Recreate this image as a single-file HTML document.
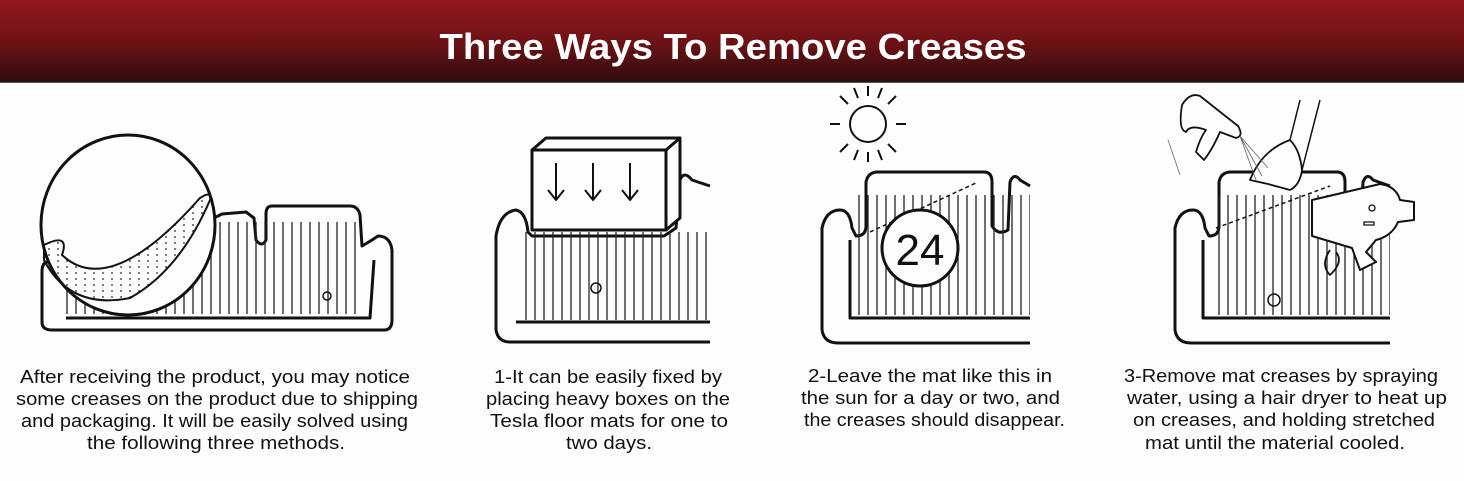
<!DOCTYPE html>
<html><head><meta charset="utf-8"><style>
html,body{margin:0;padding:0;background:#fdfdfb;}
svg{display:block;}
</style></head><body>
<svg width="1464" height="481" viewBox="0 0 1464 481" xmlns="http://www.w3.org/2000/svg">
<defs>
<linearGradient id="hd" x1="0" y1="0" x2="0" y2="1">
<stop offset="0" stop-color="#951820"/><stop offset="0.5" stop-color="#6e1216"/><stop offset="1" stop-color="#2e0d0d"/>
</linearGradient>
<pattern id="rib" width="9" height="10" patternUnits="userSpaceOnUse"><line x1="4" y1="0" x2="4" y2="10" stroke="#222" stroke-width="1.3"/></pattern>
<pattern id="dots" width="9" height="6" patternUnits="userSpaceOnUse"><circle cx="4" cy="3" r="0.9" fill="#222"/></pattern>
</defs>
<rect width="1464" height="481" fill="#fdfdfb"/>
<rect width="1464" height="82" fill="url(#hd)"/>
<line x1="0" y1="82" x2="1464" y2="82" stroke="#1a1a1a" stroke-width="1.5"/>
<text x="733" y="59" text-anchor="middle" font-family="Liberation Sans, sans-serif" font-weight="bold" font-size="36" fill="#fff" textLength="587" lengthAdjust="spacingAndGlyphs">Three Ways To Remove Creases</text>

<g fill="none" stroke="#111" stroke-width="3" stroke-linejoin="round">
<!-- Mat 1 -->
<path d="M48 262 Q42 262 42 272 L42 322 Q42 330 52 330 L384 330 Q392 330 392 320 L392 250 Q390 236 378 236 L372 240 L362 246 L360 215 Q358 206 350 206 L272 206 Q266 206 266 214 L266 240 Q262 248 256 240 L254 218 L246 212 L222 214 L210 220"/>
<path d="M66 318 L370 318 L374 260"/>
<rect x="66" y="222" width="296" height="92" fill="url(#rib)" stroke="none"/>
<circle cx="327" cy="296" r="4" stroke-width="1.5"/>
<ellipse cx="128" cy="225" rx="87" ry="90" fill="#fdfdfb"/>
<path d="M44 245 Q70 232 62 255 Q110 300 200 198 Q212 190 210 200 Q180 270 130 298 Q70 310 44 260 Z" fill="url(#dots)" stroke-width="2"/>
<path d="M62 255 Q110 300 200 198" stroke-width="1.5"/>

<!-- Mat 2 -->
<path d="M496 330 L496 236 Q500 212 516 210 Q526 212 528 232 L532 236 L664 236 L676 228 L680 180 Q684 170 692 180 L710 186"/>
<path d="M516 322 L710 322 M496 330 Q498 342 510 342 L710 342" />
<rect x="520" y="232" width="190" height="88" fill="url(#rib)" stroke="none"/>
<circle cx="596" cy="288" r="5" stroke-width="1.5"/>
<path d="M532 150 L546 138 L680 138 L666 150 Z M666 150 L680 138 L680 218 L666 230" fill="#fdfdfb"/>
<rect x="532" y="150" width="134" height="80" fill="#fdfdfb"/>
<path d="M556 163 L556 200 M548 190 L556 200 L564 190 M593 163 L593 200 M585 190 L593 200 L601 190 M630 163 L630 200 M622 190 L630 200 L638 190" stroke-width="2"/>

<!-- Mat 3 -->
<path d="M822 330 L822 228 Q826 210 840 210 Q850 210 852 228 L856 236 Q866 236 866 226 L866 182 Q868 172 878 172 L984 172 Q992 172 992 182 L992 226 Q998 236 1008 230 L1010 182 Q1014 172 1020 180 L1030 186"/>
<path d="M850 240 L850 318 L1030 318 M822 330 Q824 343 838 343 L1030 343"/>
<rect x="858" y="195" width="172" height="120" fill="url(#rib)" stroke="none"/>
<path d="M870 232 L978 182" stroke-dasharray="4 3" stroke-width="1.5"/>
<circle cx="920" cy="248" r="38" fill="#fdfdfb"/>
<text x="920" y="265" text-anchor="middle" font-family="Liberation Sans, sans-serif" font-size="44" fill="#111" stroke="none">24</text>
<circle cx="868" cy="124" r="18" stroke-width="2"/>
<path d="M868 96 L868 86 M868 152 L868 162 M840 124 L830 124 M896 124 L906 124 M848 104 L840 96 M888 104 L896 96 M848 144 L840 152 M888 144 L896 152 M858 98 L854 88 M878 98 L882 88 M858 150 L854 160 M878 150 L882 160" stroke-width="2"/>

<!-- Mat 4 -->
<path d="M1175 330 L1175 228 Q1179 210 1193 210 Q1203 210 1205 228 L1209 236 Q1219 236 1219 226 L1219 182 Q1221 172 1231 172 L1337 172 Q1345 172 1345 182 L1345 226 Q1351 236 1361 230 L1363 182 Q1367 172 1373 180 L1390 186"/>
<path d="M1203 240 L1203 318 L1390 318 M1175 330 Q1177 343 1191 343 L1390 343"/>
<rect x="1211" y="195" width="179" height="120" fill="url(#rib)" stroke="none"/>
<circle cx="1274" cy="300" r="6" stroke-width="1.5"/>
<path d="M1216 228 L1330 186" stroke-dasharray="4 3" stroke-width="1.5"/>
<path d="M1312 200 L1380 184 Q1396 186 1400 200 L1414 202 L1414 220 L1398 222 Q1392 236 1376 240 L1366 252 L1376 262 L1360 270 L1352 248 L1312 236 Z" fill="#fdfdfb" stroke-width="2"/>
<circle cx="1372" cy="208" r="3" stroke-width="1.3"/>
<rect x="1364" y="222" width="10" height="3" stroke-width="1.3"/>
<path d="M1330 250 Q1320 265 1330 275 Q1344 262 1336 252" stroke-width="1.8"/>
<path d="M1250 180 Q1262 150 1290 140 Q1300 150 1302 170 Q1300 185 1290 190 L1268 184 Z" fill="#fdfdfb" stroke-width="1.8"/>
<path d="M1290 140 L1300 100 M1302 170 L1320 100" stroke-width="1.5"/>
<path d="M1182 105 Q1190 92 1200 96 L1238 126 Q1244 136 1236 138 L1220 132 Q1212 150 1204 160 L1196 152 Q1200 138 1206 130 Q1190 124 1186 132 Q1178 130 1182 105 Z" fill="#fdfdfb" stroke-width="1.8"/>
<path d="M1168 140 Q1175 160 1180 175 M1240 136 L1262 176 M1240 136 L1256 180 M1240 136 L1268 168" stroke-width="0.8" stroke="#666"/>
</g>

<g font-family="Liberation Sans, sans-serif" font-size="18.5" fill="#111">
<text x="20" y="383" textLength="390" lengthAdjust="spacingAndGlyphs">After receiving the product, you may notice</text>
<text x="16" y="405" textLength="402" lengthAdjust="spacingAndGlyphs">some creases on the product due to shipping</text>
<text x="21" y="427" textLength="387" lengthAdjust="spacingAndGlyphs">and packaging. It will be easily solved using</text>
<text x="87" y="449" textLength="258" lengthAdjust="spacingAndGlyphs">the following three methods.</text>

<text x="494" y="383" textLength="228" lengthAdjust="spacingAndGlyphs">1-It can be easily fixed by</text>
<text x="486" y="405" textLength="244" lengthAdjust="spacingAndGlyphs">placing heavy boxes on the</text>
<text x="490" y="427" textLength="238" lengthAdjust="spacingAndGlyphs">Tesla floor mats for one to</text>
<text x="566" y="449" textLength="86" lengthAdjust="spacingAndGlyphs">two days.</text>

<text x="808" y="382" textLength="244" lengthAdjust="spacingAndGlyphs">2-Leave the mat like this in</text>
<text x="801" y="404" textLength="259" lengthAdjust="spacingAndGlyphs">the sun for a day or two, and</text>
<text x="804" y="426" textLength="261" lengthAdjust="spacingAndGlyphs">the creases should disappear.</text>

<text x="1124" y="382" textLength="314" lengthAdjust="spacingAndGlyphs">3-Remove mat creases by spraying</text>
<text x="1127" y="404" textLength="320" lengthAdjust="spacingAndGlyphs">water, using a hair dryer to heat up</text>
<text x="1133" y="426" textLength="302" lengthAdjust="spacingAndGlyphs">on creases, and holding stretched</text>
<text x="1145" y="449" textLength="260" lengthAdjust="spacingAndGlyphs">mat until the material cooled.</text>
</g>
</svg>
</body></html>
